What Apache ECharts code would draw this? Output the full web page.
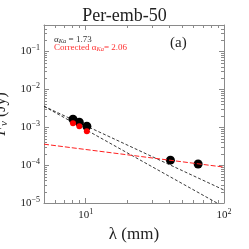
<!DOCTYPE html>
<html><head><meta charset="utf-8">
<script src="https://cdn.jsdelivr.net/npm/echarts@6/dist/echarts.min.js"></script>
<style>html,body{margin:0;padding:0;background:#fff}#c{width:249px;height:249px}</style>
</head><body><div id="c"></div>
<script>
// Data
const kaWavelength = [8.1, 9.0, 10.2];          // mm
const kaFlux = [1.62e-3, 1.35e-3, 1.06e-3];     // Jy (observed)
const kaFluxCorrected = [1.27e-3, 1.06e-3, 7.8e-4]; // Jy (free-free corrected)
const longWavelength = [41, 65];                // mm
const longFlux = [1.35e-4, 1.07e-4];            // Jy
const fitKa = [[5, 3.57e-3], [100, 2.2e-5]];        // alpha = 1.73
const fitCorrected = [[5, 3.57e-3], [89, 1.0e-5]];  // alpha = 2.06
const fitFreeFree = [[5, 3.57e-4], [100, 8.86e-5]];
const xMinorTicks = [6, 7, 8, 9, 20, 30, 40, 50, 60, 70, 80, 90];
const yMinorTicks = [2e-5,3e-5,4e-5,5e-5,6e-5,7e-5,8e-5,9e-5,
                     2e-4,3e-4,4e-4,5e-4,6e-4,7e-4,8e-4,9e-4,
                     2e-3,3e-3,4e-3,5e-3,6e-3,7e-3,8e-3,9e-3,
                     2e-2,3e-2,4e-2,5e-2,6e-2,7e-2,8e-2,9e-2,
                     2e-1,3e-1,4e-1];
const xMin = 5, xMax = 100, yMin = 1e-5, yMax = 0.5;

const SERIF = 'Liberation Serif';
const AX = '#8a8a8a';
function powLabel(v) {
  const e = Math.log10(v);
  const r = Math.round(e);
  if (Math.abs(e - r) > 1e-6) return '';
  return '{b|10}{s|' + (r < 0 ? '\u2212' + (-r) : r) + '}';
}
const labelRich = {
  b: {fontFamily: SERIF, fontSize: 11, color: '#222'},
  s: {fontFamily: SERIF, fontSize: 8, color: '#222', verticalAlign: 'top', padding: [0, 0, 7, 0]}
};
function baseAxis(extra) {
  return Object.assign({
    type: 'log', logBase: 10,
    axisLine: {show: true, lineStyle: {color: AX, width: 1}},
    axisTick: {show: true, inside: true, length: 5, lineStyle: {color: AX}},
    splitLine: {show: false},
    minorTick: {show: false},
    minorSplitLine: {show: false}
  }, extra);
}
function minorRender(isX) {
  return function (params, api) {
    const cs = params.coordSys;
    const v = api.value(isX ? 0 : 1);
    const p = api.coord(isX ? [v, yMin] : [xMin, v]);
    const st = {stroke: AX, lineWidth: 1};
    const L = 3;
    if (isX) {
      const x = Math.round(p[0]) + 0.5;
      return {type: 'group', children: [
        {type: 'line', shape: {x1: x, y1: cs.y + cs.height, x2: x, y2: cs.y + cs.height - L}, style: st},
        {type: 'line', shape: {x1: x, y1: cs.y, x2: x, y2: cs.y + L}, style: st}
      ]};
    } else {
      const y = Math.round(p[1]) + 0.5;
      return {type: 'group', children: [
        {type: 'line', shape: {x1: cs.x, y1: y, x2: cs.x + L, y2: y}, style: st},
        {type: 'line', shape: {x1: cs.x + cs.width, y1: y, x2: cs.x + cs.width - L, y2: y}, style: st}
      ]};
    }
  };
}
const chart = echarts.init(document.getElementById('c'), null, {renderer: 'canvas'});
chart.setOption({
  animation: false,
  backgroundColor: '#fff',
  title: {text: 'Per-emb-50', left: 'center', top: 2,
    textStyle: {fontFamily: SERIF, fontSize: 18, fontWeight: 'normal', color: '#222'}},
  grid: {left: 44, right: 25, top: 25, bottom: 46, containLabel: false, outerBoundsMode: 'none'},
  xAxis: [
    baseAxis({min: xMin, max: xMax, position: 'bottom',
      axisLabel: {formatter: powLabel, rich: labelRich, margin: 5, showMinLabel: false},
      name: '{l|\u03bb (mm)}', nameLocation: 'middle', nameGap: 22,
      nameTextStyle: {rich: {l: {fontFamily: SERIF, fontSize: 17, color: '#222'}}}}),
    baseAxis({min: xMin, max: xMax, position: 'top', axisLabel: {show: false}})
  ],
  yAxis: [
    baseAxis({min: yMin, max: yMax, position: 'left',
      axisLabel: {formatter: powLabel, rich: labelRich, margin: 4, showMaxLabel: false},
      name: '{i|F}{n|\u03bd}{r| (Jy)}', nameLocation: 'middle', nameGap: 26, nameRotate: 90,
      nameTextStyle: {rich: {
        i: {fontFamily: SERIF, fontStyle: 'italic', fontSize: 16, color: '#222'},
        n: {fontFamily: SERIF, fontStyle: 'italic', fontSize: 11, color: '#222', verticalAlign: 'bottom', padding: [6, 0, 0, 0]},
        r: {fontFamily: SERIF, fontSize: 16, color: '#222'}
      }}}),
    baseAxis({min: yMin, max: yMax, position: 'right', axisLabel: {show: false}})
  ],
  series: [
    {type: 'custom', renderItem: minorRender(true), silent: true, clip: false,
      data: xMinorTicks.map(v => [v, yMin]), z: 1},
    {type: 'custom', renderItem: minorRender(false), silent: true, clip: false,
      data: yMinorTicks.map(v => [xMin, v]), z: 1},
    {type: 'line', data: fitKa, symbol: 'none', clip: true, z: 2,
      lineStyle: {color: '#222', width: 0.9, type: [3, 2]}},
    {type: 'line', data: fitCorrected, symbol: 'none', clip: true, z: 2,
      lineStyle: {color: '#222', width: 0.9, type: [3, 2]}},
    {type: 'scatter', data: kaWavelength.map((x, i) => [x, kaFlux[i]]).concat(longWavelength.map((x, i) => [x, longFlux[i]])),
      symbol: 'circle', symbolSize: 9, itemStyle: {color: '#000', opacity: 1}, z: 3},
    {type: 'scatter', data: kaWavelength.map((x, i) => [x, kaFluxCorrected[i]]),
      symbol: 'circle', symbolSize: 6, itemStyle: {color: '#ff0000', opacity: 1}, z: 4},
    {type: 'line', data: fitFreeFree, symbol: 'none', clip: true, z: 5,
      lineStyle: {color: '#ff2020', width: 1, type: [5, 2]}}
  ],
  graphic: [
    {type: 'text', left: 54, top: 34, z: 10, style: {
      text: '{a|\u03b1}{k|Ka}{a| = 1.73}', fill: '#333',
      rich: {a: {fontFamily: SERIF, fontSize: 9, lineHeight: 11, fill: '#333'},
             k: {fontFamily: SERIF, fontStyle: 'italic', fontSize: 6.5, lineHeight: 11, fill: '#333', verticalAlign: 'bottom', padding: [4, 0, 0, 0]}}}},
    {type: 'text', left: 54, top: 42, z: 10, style: {
      text: '{a|Corrected \u03b1}{k|Ka}{a|= 2.06}', fill: '#ff3030',
      rich: {a: {fontFamily: SERIF, fontSize: 9, lineHeight: 11, fill: '#ff3030'},
             k: {fontFamily: SERIF, fontStyle: 'italic', fontSize: 6.5, lineHeight: 11, fill: '#ff3030', verticalAlign: 'bottom', padding: [4, 0, 0, 0]}}}},
    {type: 'text', left: 170, top: 36, z: 10, style: {
      text: '(a)', fontFamily: SERIF, fontSize: 15, fill: '#222'}}
  ]
});
</script></body></html>
